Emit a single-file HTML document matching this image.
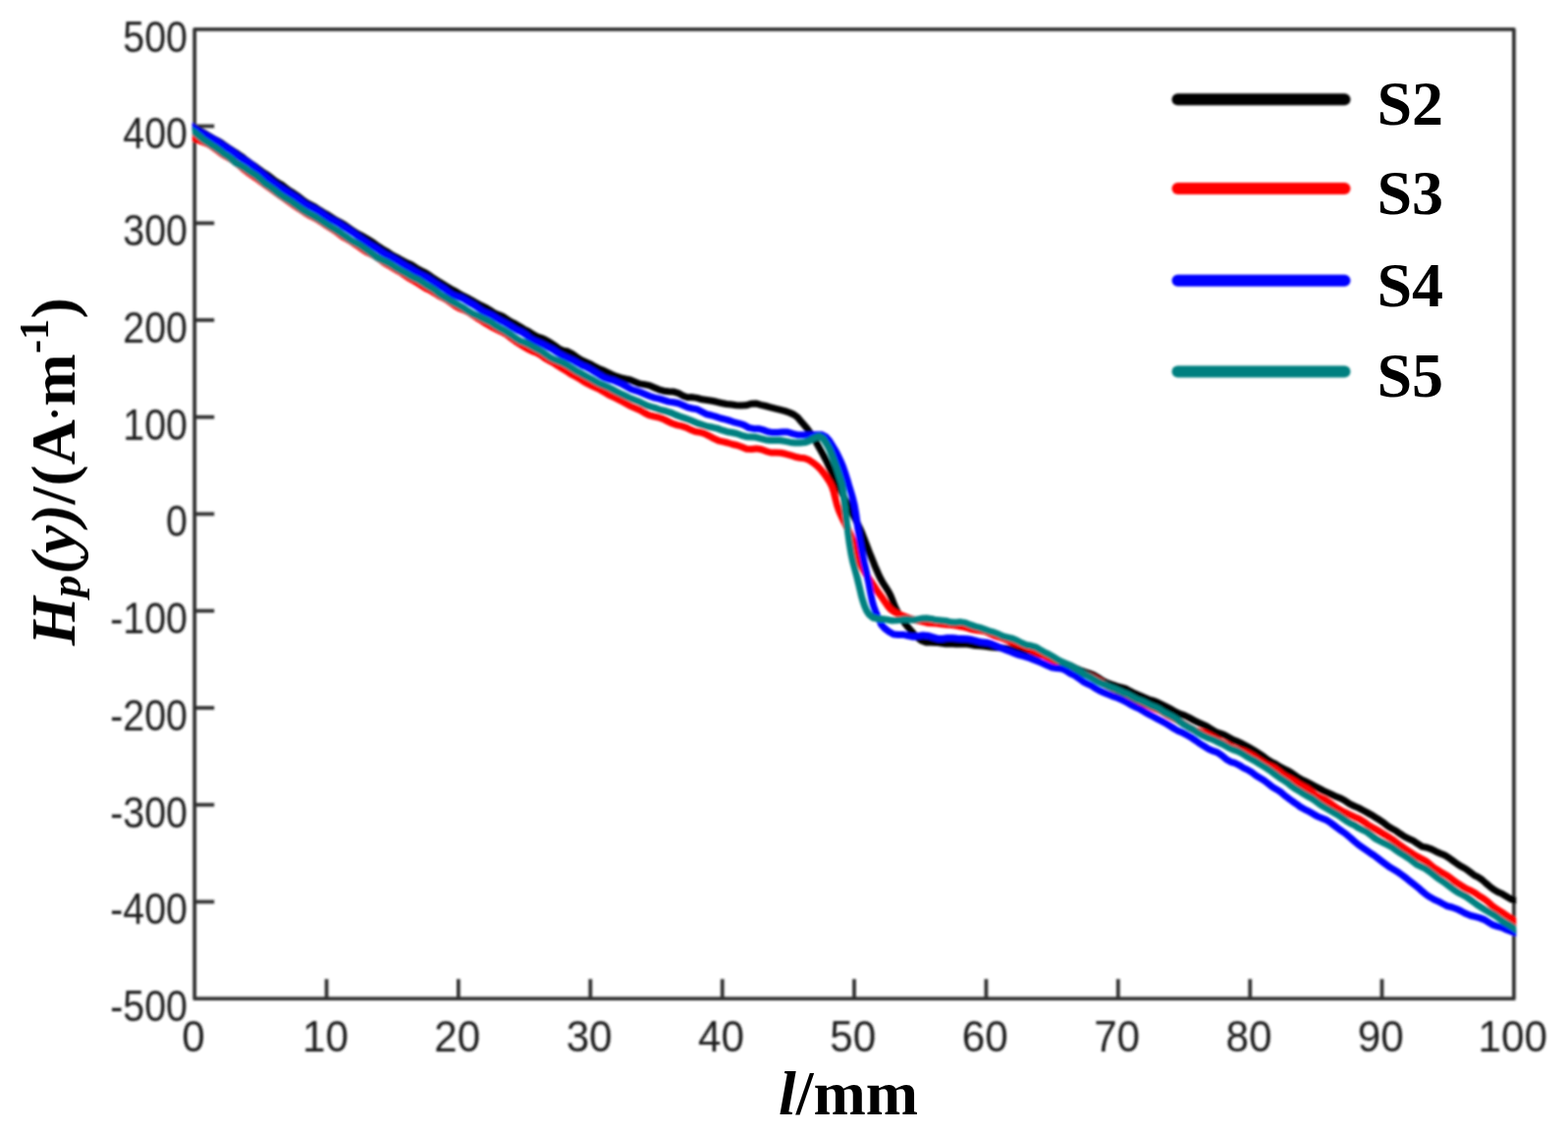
<!DOCTYPE html>
<html lang="en"><head><meta charset="utf-8"><title>Hp(y) vs l</title>
<style>
html,body{margin:0;padding:0;background:#fff;}
body{width:1597px;height:1155px;overflow:hidden;}
svg{display:block;}
.tick{font-family:"Liberation Sans",sans-serif;font-size:43.5px;fill:#1e1e1e;}
.lab{font-family:"Liberation Serif",serif;font-weight:bold;font-size:64px;fill:#000;}
.it{font-style:italic;}
</style></head><body>
<svg width="1597" height="1155" viewBox="0 0 1597 1155">
<rect width="1597" height="1155" fill="#fff"/>

<defs><filter id="soft" filterUnits="userSpaceOnUse" x="0" y="0" width="1597" height="1155"><feGaussianBlur stdDeviation="0.8"/></filter><filter id="soft2" filterUnits="userSpaceOnUse" x="0" y="0" width="1597" height="1155"><feGaussianBlur stdDeviation="0.4"/></filter><clipPath id="c"><rect x="195.8" y="29.8" width="1348.5" height="987.4"/></clipPath></defs>
<g filter="url(#soft)">
<g stroke="#303030" stroke-width="3.8" fill="none">
<rect x="198.2" y="29.8" width="1343.7" height="987.4" stroke-linejoin="round"/>
<line x1="332.6" y1="1017.2" x2="332.6" y2="997.2"/>
<line x1="466.9" y1="1017.2" x2="466.9" y2="997.2"/>
<line x1="601.3" y1="1017.2" x2="601.3" y2="997.2"/>
<line x1="735.7" y1="1017.2" x2="735.7" y2="997.2"/>
<line x1="870.0" y1="1017.2" x2="870.0" y2="997.2"/>
<line x1="1004.4" y1="1017.2" x2="1004.4" y2="997.2"/>
<line x1="1138.8" y1="1017.2" x2="1138.8" y2="997.2"/>
<line x1="1273.2" y1="1017.2" x2="1273.2" y2="997.2"/>
<line x1="1407.5" y1="1017.2" x2="1407.5" y2="997.2"/>
<line x1="198.2" y1="128.5" x2="218.2" y2="128.5"/>
<line x1="198.2" y1="227.3" x2="218.2" y2="227.3"/>
<line x1="198.2" y1="326.0" x2="218.2" y2="326.0"/>
<line x1="198.2" y1="424.8" x2="218.2" y2="424.8"/>
<line x1="198.2" y1="523.5" x2="218.2" y2="523.5"/>
<line x1="198.2" y1="622.2" x2="218.2" y2="622.2"/>
<line x1="198.2" y1="721.0" x2="218.2" y2="721.0"/>
<line x1="198.2" y1="819.7" x2="218.2" y2="819.7"/>
<line x1="198.2" y1="918.5" x2="218.2" y2="918.5"/>
</g>
<g fill="none" stroke-linejoin="round" stroke-linecap="butt" clip-path="url(#c)">
<path d="M185.7 124.4 L190.1 127.3 L194.6 129.5 L199.0 131.1 L203.5 133.1 L208.0 135.5 L212.4 138.2 L216.8 140.8 L221.1 143.0 L225.4 145.5 L229.7 148.7 L233.9 151.6 L238.1 154.2 L242.2 156.8 L246.3 159.6 L250.4 162.9 L254.5 165.9 L258.6 168.6 L262.6 171.5 L266.7 174.6 L270.7 177.1 L274.7 179.9 L278.8 183.3 L282.8 186.0 L287.0 188.4 L291.1 191.5 L295.2 194.5 L299.4 197.1 L303.6 199.9 L307.8 203.3 L312.1 206.4 L316.4 208.6 L320.8 210.9 L325.1 213.8 L329.5 216.5 L333.8 218.8 L338.1 221.7 L342.4 224.4 L346.7 226.6 L350.9 229.0 L355.2 232.1 L359.4 235.1 L363.6 237.7 L367.9 239.8 L372.1 242.2 L376.3 244.8 L380.6 247.5 L384.9 250.7 L389.2 253.5 L393.6 256.0 L398.0 258.9 L402.4 261.5 L406.8 263.7 L411.2 266.1 L415.6 268.3 L420.0 270.3 L424.3 273.2 L428.7 275.6 L433.0 277.6 L437.3 280.5 L441.6 283.5 L445.9 286.3 L450.1 288.8 L454.4 291.4 L458.7 294.0 L463.0 296.3 L467.5 299.0 L471.9 301.5 L476.4 303.7 L480.8 306.0 L485.3 308.7 L489.7 311.0 L494.2 313.1 L498.7 315.7 L503.1 318.6 L507.6 320.6 L511.9 322.3 L516.3 325.1 L520.6 327.9 L524.9 330.0 L529.2 332.5 L533.6 335.3 L538.0 337.5 L542.4 340.3 L546.8 342.8 L551.3 344.3 L555.7 346.3 L560.2 348.8 L564.7 351.9 L569.2 355.1 L573.7 357.1 L578.2 358.0 L582.6 360.3 L587.1 363.6 L591.5 366.5 L595.9 368.4 L600.3 370.4 L604.7 372.9 L609.2 375.2 L613.7 377.0 L618.3 379.1 L623.0 381.4 L627.6 383.4 L632.4 384.9 L637.1 386.0 L642.0 387.0 L646.8 388.9 L651.7 390.9 L656.5 391.6 L661.4 392.6 L666.3 394.8 L671.1 396.8 L676.0 398.2 L680.8 398.7 L685.7 398.9 L690.6 400.3 L695.4 403.1 L700.3 404.8 L705.2 404.6 L710.1 405.4 L715.0 406.8 L719.9 407.5 L724.9 408.3 L729.8 409.3 L734.8 410.5 L739.8 411.5 L744.8 412.1 L749.8 412.7 L754.8 413.1 L759.8 412.8 L764.8 411.3 L769.8 410.9 L774.7 412.4 L779.7 413.5 L784.6 414.8 L789.6 416.2 L794.6 417.4 L799.4 418.6 L804.1 420.2 L808.5 422.2 L812.3 425.0 L815.6 428.9 L818.9 432.7 L822.1 436.5 L825.1 440.7 L828.0 445.0 L830.6 449.3 L833.0 453.6 L835.4 457.9 L837.9 462.4 L840.4 467.0 L842.7 471.5 L844.7 476.0 L846.8 480.5 L848.9 485.1 L851.2 489.8 L853.4 494.4 L855.7 499.0 L858.0 503.4 L860.2 507.6 L862.5 512.1 L864.8 516.6 L867.1 521.1 L869.4 525.6 L871.7 530.0 L873.9 534.4 L876.1 538.9 L878.1 543.5 L880.0 548.2 L881.8 552.9 L883.6 557.7 L885.4 562.4 L887.3 567.1 L889.2 571.8 L891.0 576.4 L893.0 581.0 L895.0 585.6 L897.2 590.1 L899.7 594.4 L902.5 598.7 L905.2 603.0 L907.4 607.4 L909.2 612.1 L911.0 616.8 L913.1 621.3 L915.5 625.7 L918.1 630.0 L921.0 634.1 L924.2 638.0 L927.4 641.9 L930.7 645.6 L934.3 649.2 L938.5 652.5 L943.2 654.2 L948.1 654.2 L953.1 654.4 L958.2 655.1 L963.2 655.8 L968.2 655.6 L973.3 655.9 L978.3 656.1 L983.3 655.7 L988.4 656.5 L993.4 657.5 L998.4 657.8 L1003.4 658.3 L1008.4 659.0 L1013.4 659.4 L1018.4 659.7 L1023.4 660.3 L1028.4 660.8 L1033.3 661.3 L1038.4 662.2 L1043.4 662.5 L1048.4 663.0 L1053.3 664.9 L1058.2 666.8 L1063.0 667.6 L1067.6 668.6 L1072.2 670.6 L1076.8 672.6 L1081.4 674.8 L1086.0 676.7 L1090.6 678.2 L1095.2 680.5 L1099.8 682.5 L1104.5 684.2 L1109.1 685.8 L1113.8 687.6 L1118.4 690.2 L1123.1 693.3 L1127.7 695.6 L1132.4 697.2 L1137.0 698.9 L1141.7 700.1 L1146.3 701.4 L1151.0 704.0 L1155.6 706.3 L1160.2 708.2 L1164.8 710.3 L1169.5 712.3 L1174.1 713.6 L1178.7 715.3 L1183.3 717.7 L1187.9 720.0 L1192.5 722.2 L1197.1 725.0 L1201.7 727.2 L1206.3 728.7 L1210.9 730.9 L1215.4 733.4 L1219.9 735.6 L1224.4 737.7 L1228.9 739.7 L1233.3 742.4 L1237.8 745.2 L1242.3 746.9 L1246.9 748.5 L1251.4 751.0 L1255.9 753.6 L1260.5 755.3 L1265.0 757.5 L1269.4 759.9 L1273.7 762.1 L1278.0 764.8 L1282.2 767.5 L1286.4 770.2 L1290.6 773.5 L1294.8 776.0 L1299.1 778.2 L1303.4 781.0 L1307.8 783.2 L1312.1 785.1 L1316.5 788.0 L1320.9 791.2 L1325.3 793.8 L1329.8 796.0 L1334.2 798.2 L1338.7 800.5 L1343.2 802.8 L1347.8 805.3 L1352.3 807.4 L1356.8 809.5 L1361.3 811.6 L1365.8 813.3 L1370.3 815.8 L1374.8 818.9 L1379.2 821.0 L1383.7 822.9 L1388.1 825.3 L1392.5 827.6 L1396.9 830.1 L1401.1 832.7 L1405.3 835.3 L1409.5 838.2 L1413.6 841.5 L1417.8 844.0 L1422.0 846.3 L1426.2 849.3 L1430.5 852.1 L1435.0 854.3 L1439.5 856.4 L1444.1 859.6 L1448.7 862.4 L1453.3 863.3 L1457.9 864.9 L1462.4 867.2 L1466.9 869.2 L1471.3 871.0 L1475.7 873.7 L1480.0 876.9 L1484.3 880.0 L1488.6 882.7 L1492.9 885.0 L1497.1 888.1 L1501.3 891.3 L1505.4 893.4 L1509.4 896.0 L1513.3 899.5 L1517.3 902.9 L1521.4 906.1 L1525.5 908.5 L1530.0 910.4 L1534.6 913.2 L1539.3 916.1 L1544.0 916.9 L1548.6 917.2 L1553.3 919.5" stroke="#000000" stroke-width="7.0"/>
<path d="M185.8 133.4 L190.2 136.2 L194.6 138.7 L199.0 141.3 L203.4 143.4 L207.8 145.0 L212.2 146.9 L216.5 149.6 L220.7 152.8 L224.9 156.0 L229.1 158.7 L233.2 161.1 L237.4 163.5 L241.5 166.6 L245.6 170.0 L249.6 173.5 L253.7 176.6 L257.7 179.3 L261.7 182.0 L265.8 185.1 L269.7 188.1 L273.7 190.8 L277.7 193.7 L281.7 196.7 L285.8 199.5 L289.9 202.4 L294.0 205.3 L298.1 208.3 L302.3 211.2 L306.5 213.8 L310.7 216.7 L314.9 219.3 L319.2 221.4 L323.6 223.8 L327.9 226.7 L332.2 229.5 L336.5 232.2 L340.7 234.8 L345.0 237.9 L349.2 241.2 L353.3 243.5 L357.5 245.9 L361.7 248.9 L365.9 251.6 L370.1 254.5 L374.3 257.2 L378.5 259.2 L382.8 261.4 L387.0 264.5 L391.3 267.6 L395.7 270.1 L400.0 272.8 L404.4 275.4 L408.7 277.8 L413.0 280.8 L417.4 283.8 L421.7 286.2 L426.0 288.7 L430.3 291.5 L434.5 294.2 L438.8 296.2 L443.0 298.6 L447.1 301.3 L451.3 303.5 L455.5 305.8 L459.8 308.8 L464.1 312.0 L468.5 314.3 L472.9 315.9 L477.3 318.0 L481.7 321.1 L486.0 323.9 L490.4 326.6 L494.8 329.5 L499.2 332.1 L503.5 334.4 L507.9 336.5 L512.2 338.5 L516.4 341.0 L520.7 344.4 L524.9 347.5 L529.1 350.3 L533.4 353.0 L537.7 355.6 L542.0 357.6 L546.4 359.2 L550.8 361.8 L555.1 365.0 L559.5 367.4 L563.8 369.7 L568.1 372.6 L572.4 375.2 L576.6 377.6 L580.9 380.6 L585.2 383.0 L589.6 385.3 L593.9 388.2 L598.2 390.7 L602.5 392.8 L606.9 394.9 L611.3 396.9 L615.7 399.6 L620.2 402.3 L624.7 404.4 L629.3 406.6 L633.8 409.0 L638.3 411.5 L642.8 413.9 L647.3 415.8 L651.9 417.8 L656.5 420.5 L661.1 422.8 L665.8 424.0 L670.5 425.0 L675.2 426.6 L680.0 429.0 L684.7 431.3 L689.4 432.9 L694.1 433.9 L698.8 435.3 L703.5 437.7 L708.2 439.5 L712.9 440.2 L717.6 441.7 L722.3 444.0 L727.0 446.6 L731.8 448.8 L736.5 449.9 L741.2 451.0 L746.0 452.5 L750.7 453.5 L755.6 455.3 L760.4 457.3 L765.4 457.4 L770.4 456.9 L775.4 457.7 L780.3 459.6 L785.2 461.0 L790.2 461.1 L795.2 461.3 L800.1 462.3 L804.9 463.7 L809.7 465.2 L814.5 466.2 L819.4 466.8 L824.1 468.6 L828.6 471.6 L832.5 474.8 L836.0 478.4 L839.3 482.5 L842.3 486.8 L845.0 490.9 L847.3 495.3 L848.9 500.0 L850.1 504.8 L851.3 509.7 L852.6 514.6 L854.2 519.3 L856.1 523.9 L858.2 528.5 L860.4 532.9 L862.7 537.3 L865.0 541.8 L867.2 546.5 L869.1 551.2 L870.6 555.9 L871.6 560.8 L872.9 565.6 L874.6 570.4 L876.6 575.2 L878.8 579.7 L881.4 584.0 L884.3 588.2 L887.1 592.2 L889.8 596.2 L892.5 600.4 L895.3 604.4 L898.1 608.3 L901.0 612.6 L904.1 617.1 L907.4 620.9 L911.0 623.4 L915.4 625.6 L920.5 627.5 L925.1 629.2 L929.7 631.0 L934.5 632.0 L939.5 633.1 L944.5 634.4 L949.5 634.8 L954.5 635.0 L959.5 635.8 L964.5 636.3 L969.4 636.5 L974.3 637.3 L979.3 638.2 L984.2 639.3 L989.0 640.9 L993.9 641.8 L998.7 642.3 L1003.5 643.1 L1008.3 645.3 L1013.1 647.7 L1017.9 649.0 L1022.6 650.6 L1027.3 652.5 L1032.0 654.6 L1036.7 656.3 L1041.3 657.7 L1045.9 659.7 L1050.5 662.0 L1055.0 664.2 L1059.6 666.2 L1064.1 668.4 L1068.7 670.9 L1073.4 673.2 L1078.1 674.5 L1082.7 675.8 L1087.4 677.9 L1091.9 680.1 L1096.5 682.6 L1101.0 685.1 L1105.5 686.8 L1109.9 688.5 L1114.4 690.6 L1118.8 693.0 L1123.3 695.8 L1127.7 698.7 L1132.1 700.8 L1136.5 703.1 L1140.9 705.7 L1145.4 707.7 L1149.8 710.2 L1154.3 712.9 L1158.9 714.7 L1163.4 716.3 L1168.0 718.2 L1172.6 720.4 L1177.1 722.3 L1181.6 723.9 L1186.0 726.5 L1190.5 729.4 L1194.8 731.4 L1199.2 733.5 L1203.7 736.1 L1208.1 738.9 L1212.6 741.7 L1217.2 744.1 L1221.8 745.2 L1226.4 746.3 L1231.1 748.4 L1235.7 750.8 L1240.3 753.6 L1244.9 756.2 L1249.4 758.2 L1254.0 760.7 L1258.6 762.7 L1263.1 764.0 L1267.6 765.6 L1272.1 767.7 L1276.5 770.1 L1280.9 773.1 L1285.3 775.9 L1289.6 778.6 L1293.9 780.5 L1298.2 782.5 L1302.4 785.8 L1306.7 789.3 L1310.9 791.8 L1315.0 793.7 L1319.2 796.2 L1323.5 799.1 L1327.7 801.4 L1332.0 803.7 L1336.3 807.1 L1340.6 810.6 L1344.9 812.6 L1349.2 814.5 L1353.5 817.2 L1357.8 820.3 L1362.2 823.4 L1366.5 825.9 L1371.0 828.0 L1375.4 830.1 L1379.8 832.2 L1384.2 834.0 L1388.6 836.7 L1393.0 839.9 L1397.3 842.5 L1401.5 844.9 L1405.8 847.4 L1410.0 850.0 L1414.2 852.5 L1418.3 855.1 L1422.5 858.2 L1426.7 861.5 L1430.9 864.4 L1435.1 867.2 L1439.3 870.0 L1443.5 872.5 L1447.7 874.6 L1451.9 876.8 L1456.1 880.1 L1460.3 883.6 L1464.5 886.3 L1468.7 888.9 L1472.9 891.2 L1477.2 894.1 L1481.4 897.5 L1485.6 900.3 L1489.8 902.9 L1494.0 905.4 L1498.2 907.2 L1502.4 909.5 L1506.5 912.5 L1510.7 915.0 L1514.8 918.0 L1519.0 921.9 L1523.1 925.1 L1527.3 927.7 L1531.4 930.3 L1535.5 933.1 L1539.7 936.0 L1543.8 938.8 L1548.0 941.7 L1552.1 944.6" stroke="#ff0000" stroke-width="7.0"/>
<path d="M185.9 123.6 L190.2 125.3 L194.6 128.2 L199.0 131.4 L203.4 134.0 L207.8 136.6 L212.2 139.1 L216.5 141.2 L220.7 143.5 L224.9 146.5 L229.1 149.4 L233.2 151.9 L237.4 154.8 L241.5 158.1 L245.6 161.0 L249.6 163.5 L253.7 166.0 L257.8 169.1 L261.8 172.8 L265.8 176.0 L269.8 179.1 L273.8 182.4 L277.9 185.7 L281.9 188.6 L286.0 191.3 L290.1 193.9 L294.2 196.5 L298.4 199.2 L302.5 201.8 L306.7 204.9 L311.0 208.0 L315.3 210.4 L319.6 212.4 L323.9 214.8 L328.3 217.7 L332.6 220.9 L336.9 223.5 L341.1 225.5 L345.4 227.9 L349.6 230.8 L353.8 233.3 L358.0 235.9 L362.3 239.0 L366.5 242.2 L370.7 245.1 L374.9 247.9 L379.1 250.4 L383.3 252.9 L387.6 256.0 L392.0 258.8 L396.4 261.0 L400.8 263.3 L405.1 265.8 L409.5 268.6 L413.9 271.2 L418.2 273.6 L422.5 276.3 L426.9 278.8 L431.2 280.9 L435.5 283.1 L439.7 285.9 L443.9 288.8 L448.1 291.4 L452.4 294.1 L456.6 297.4 L460.9 300.4 L465.3 302.0 L469.7 303.3 L474.1 305.7 L478.5 308.4 L483.0 310.9 L487.4 314.0 L491.8 317.1 L496.2 319.0 L500.7 321.0 L505.1 323.8 L509.5 326.3 L513.8 328.5 L518.1 331.0 L522.4 333.8 L526.7 336.3 L531.0 338.1 L535.4 340.8 L539.7 344.4 L544.1 347.0 L548.5 348.7 L553.0 350.7 L557.4 353.1 L561.9 355.3 L566.4 358.2 L570.9 361.1 L575.4 363.4 L579.9 365.4 L584.4 367.4 L588.8 370.0 L593.2 372.4 L597.6 374.1 L602.0 376.5 L606.4 379.3 L610.9 382.1 L615.4 384.7 L620.0 386.3 L624.5 387.4 L629.1 389.4 L633.8 391.4 L638.4 393.9 L643.0 396.5 L647.7 398.0 L652.3 399.5 L657.0 401.5 L661.8 403.5 L666.6 405.1 L671.5 406.1 L676.3 407.6 L681.1 409.1 L686.0 409.8 L690.8 410.8 L695.6 412.7 L700.4 414.9 L705.2 416.0 L710.0 416.9 L714.8 419.3 L719.6 421.8 L724.4 423.0 L729.1 424.4 L733.9 426.0 L738.6 427.2 L743.4 428.5 L748.1 430.2 L752.9 431.3 L757.7 432.9 L762.6 435.6 L767.6 436.7 L772.5 436.7 L777.3 437.9 L782.1 439.7 L787.0 440.6 L792.0 440.6 L797.1 440.1 L802.1 440.0 L807.1 441.6 L812.1 442.9 L817.1 443.0 L822.1 443.2 L827.2 443.0 L832.2 442.7 L837.0 442.8 L841.3 445.1 L844.5 448.6 L847.3 453.1 L849.9 457.3 L852.4 461.7 L854.6 466.3 L856.7 470.8 L858.6 475.4 L860.3 480.3 L861.8 485.1 L863.3 489.9 L864.7 494.7 L866.2 499.5 L867.6 504.2 L868.9 509.0 L870.1 513.9 L871.0 518.9 L871.8 523.9 L872.5 528.9 L873.2 533.9 L873.9 538.9 L874.7 543.8 L875.5 548.8 L876.4 553.8 L877.3 558.7 L878.2 563.6 L879.2 568.6 L880.2 573.5 L881.4 578.4 L882.5 583.3 L883.6 588.3 L884.7 593.2 L885.6 598.1 L886.5 603.1 L887.5 608.0 L888.5 612.9 L889.9 617.6 L891.6 622.2 L893.6 627.1 L895.7 631.8 L897.8 636.5 L900.9 639.9 L905.2 643.2 L910.0 646.0 L914.8 646.5 L919.7 646.4 L924.8 647.6 L929.8 648.7 L934.8 647.9 L939.8 647.0 L944.8 647.4 L949.8 648.9 L954.9 650.4 L959.9 650.5 L964.9 649.8 L970.0 649.7 L975.0 650.3 L980.0 650.6 L985.0 650.8 L990.0 651.5 L995.0 652.9 L999.9 654.1 L1004.8 654.4 L1009.6 655.6 L1014.4 657.7 L1019.1 659.8 L1023.8 661.7 L1028.6 663.6 L1033.3 665.4 L1038.0 667.1 L1042.8 668.5 L1047.5 669.8 L1052.3 671.7 L1057.0 673.6 L1061.8 675.5 L1066.6 677.7 L1071.3 679.7 L1076.1 680.6 L1080.8 680.9 L1085.4 682.9 L1089.9 685.8 L1094.3 687.9 L1098.6 690.7 L1103.0 694.1 L1107.3 696.4 L1111.6 698.4 L1116.0 701.2 L1120.4 703.8 L1125.0 705.7 L1129.5 707.6 L1134.1 709.4 L1138.8 711.0 L1143.4 713.2 L1147.9 715.5 L1152.5 718.1 L1156.9 720.4 L1161.4 722.4 L1165.8 725.1 L1170.3 727.6 L1174.7 730.0 L1179.1 732.4 L1183.5 734.6 L1187.8 737.0 L1192.2 739.7 L1196.5 742.5 L1200.8 744.8 L1205.1 746.6 L1209.5 749.0 L1213.8 751.5 L1218.2 754.5 L1222.5 757.6 L1226.8 760.3 L1231.2 763.1 L1235.6 764.9 L1239.9 766.3 L1244.3 769.3 L1248.8 773.2 L1253.2 775.8 L1257.7 777.2 L1262.1 779.3 L1266.5 782.1 L1270.8 784.1 L1275.1 786.8 L1279.3 790.0 L1283.5 792.5 L1287.6 795.0 L1291.8 798.2 L1295.9 801.5 L1300.0 803.9 L1304.1 806.5 L1308.1 809.9 L1312.2 813.1 L1316.2 816.0 L1320.3 818.8 L1324.4 821.9 L1328.7 824.3 L1333.1 826.4 L1337.6 829.1 L1342.1 831.6 L1346.6 833.5 L1351.0 835.3 L1355.4 838.1 L1359.7 841.4 L1363.8 844.5 L1367.9 847.3 L1371.9 850.3 L1375.8 853.6 L1379.7 857.1 L1383.6 860.4 L1387.5 863.1 L1391.5 865.9 L1395.5 868.7 L1399.5 871.3 L1403.6 874.4 L1407.8 877.6 L1411.9 880.6 L1416.0 883.6 L1420.2 886.1 L1424.3 888.6 L1428.4 891.5 L1432.5 894.6 L1436.6 898.0 L1440.5 901.1 L1444.5 904.2 L1448.5 907.8 L1452.5 911.1 L1456.6 913.8 L1460.8 916.2 L1465.1 918.1 L1469.5 920.5 L1474.0 922.8 L1478.7 924.0 L1483.4 925.7 L1488.2 928.0 L1493.0 930.6 L1497.7 932.5 L1502.4 933.7 L1507.0 934.9 L1511.6 936.6 L1516.3 939.4 L1520.9 942.2 L1525.5 943.7 L1530.1 944.8 L1534.7 947.0 L1539.4 948.8 L1544.0 950.0 L1548.6 952.5 L1553.2 955.2" stroke="#0000ff" stroke-width="7.0"/>
<path d="M186.2 128.8 L190.4 130.9 L194.7 132.8 L198.9 135.3 L203.2 139.0 L207.4 142.6 L211.6 145.2 L215.8 148.1 L220.0 150.8 L224.1 153.7 L228.2 157.0 L232.3 159.5 L236.4 162.6 L240.4 166.1 L244.5 168.5 L248.6 170.9 L252.7 173.8 L256.8 176.5 L260.8 179.0 L264.8 182.5 L268.8 186.3 L272.8 189.2 L276.9 191.9 L280.9 195.1 L284.9 198.1 L289.0 201.0 L293.2 203.6 L297.3 206.1 L301.5 209.1 L305.7 212.1 L309.9 215.0 L314.1 217.4 L318.5 219.6 L322.8 222.1 L327.1 224.9 L331.5 227.9 L335.8 230.6 L340.0 233.0 L344.3 235.7 L348.5 238.7 L352.7 241.5 L356.9 244.4 L361.1 246.9 L365.4 249.1 L369.5 251.9 L373.7 254.8 L378.0 257.9 L382.2 261.0 L386.5 263.7 L390.8 265.8 L395.1 267.7 L399.5 270.3 L403.9 273.3 L408.3 275.8 L412.6 278.0 L416.9 280.6 L421.3 283.0 L425.6 284.8 L429.9 287.5 L434.2 290.5 L438.5 292.8 L442.7 295.6 L446.9 299.0 L451.1 301.9 L455.3 304.3 L459.6 306.9 L464.0 309.2 L468.3 311.5 L472.7 314.1 L477.2 317.1 L481.6 319.7 L486.0 321.6 L490.4 323.8 L494.8 326.0 L499.3 328.2 L503.7 331.2 L508.1 333.8 L512.4 336.1 L516.7 338.7 L521.0 341.5 L525.3 344.6 L529.6 347.2 L533.9 348.8 L538.2 350.7 L542.6 353.2 L547.0 355.6 L551.5 358.0 L555.9 361.2 L560.3 364.2 L564.7 366.3 L569.1 368.0 L573.6 369.9 L578.0 372.3 L582.4 375.0 L586.8 377.8 L591.3 380.2 L595.7 382.6 L600.2 385.0 L604.6 387.4 L609.1 390.1 L613.7 392.1 L618.2 393.9 L622.8 396.1 L627.4 398.6 L631.9 400.9 L636.5 403.0 L640.9 405.1 L645.4 407.0 L649.9 408.7 L654.4 410.9 L659.0 413.2 L663.7 414.5 L668.5 415.9 L673.4 417.8 L678.3 418.8 L683.1 420.3 L687.8 422.4 L692.6 424.2 L697.3 425.9 L702.0 427.5 L706.8 429.5 L711.5 431.4 L716.3 433.0 L721.1 434.5 L725.9 435.3 L730.7 436.4 L735.5 438.2 L740.4 439.7 L745.3 440.5 L750.1 441.5 L755.0 443.3 L759.9 444.7 L764.8 444.9 L769.8 445.3 L774.7 446.7 L779.7 447.9 L784.6 448.4 L789.6 448.4 L794.6 448.5 L799.6 449.4 L804.7 450.4 L809.7 450.9 L814.8 451.0 L819.8 450.6 L824.4 448.9 L829.0 446.3 L834.0 444.5 L838.2 446.6 L841.5 451.6 L843.9 455.7 L845.9 460.2 L847.8 465.0 L849.6 469.7 L851.3 474.4 L853.0 479.2 L854.5 484.0 L856.1 488.8 L857.5 493.6 L858.4 498.5 L859.0 503.5 L859.6 508.5 L860.1 513.5 L860.7 518.5 L861.3 523.5 L861.9 528.5 L862.5 533.5 L863.2 538.4 L863.8 543.4 L864.5 548.4 L865.2 553.4 L866.0 558.4 L866.8 563.4 L867.8 568.3 L868.9 573.1 L870.2 577.9 L871.5 582.8 L872.8 587.7 L874.0 592.6 L875.2 597.5 L876.3 602.3 L877.5 607.2 L878.9 612.1 L880.5 617.0 L882.5 621.7 L885.2 625.8 L888.8 629.0 L893.4 630.2 L898.4 630.4 L903.5 631.1 L908.5 632.1 L913.5 631.8 L918.5 631.1 L923.5 630.8 L928.5 631.3 L933.5 631.2 L938.6 630.1 L943.6 629.8 L948.6 630.4 L953.6 631.6 L958.6 632.0 L963.6 632.5 L968.6 633.8 L973.5 634.0 L978.4 633.6 L983.3 634.4 L988.2 636.4 L993.1 638.1 L998.0 639.3 L1002.8 641.1 L1007.6 642.8 L1012.4 644.2 L1017.2 646.1 L1021.9 648.2 L1026.6 649.3 L1031.3 650.5 L1036.0 652.5 L1040.7 655.0 L1045.4 657.0 L1050.1 657.8 L1054.7 659.1 L1059.2 661.8 L1063.7 664.3 L1068.2 666.5 L1072.6 669.1 L1077.0 671.8 L1081.4 674.1 L1085.8 675.9 L1090.3 678.0 L1094.7 680.6 L1099.2 683.2 L1103.6 686.1 L1108.1 688.4 L1112.5 690.7 L1117.0 693.3 L1121.5 695.6 L1126.0 697.7 L1130.5 699.8 L1135.0 701.5 L1139.6 703.4 L1144.1 705.4 L1148.7 707.2 L1153.2 709.7 L1157.8 712.3 L1162.5 714.0 L1167.1 716.1 L1171.7 718.5 L1176.2 720.2 L1180.7 722.4 L1185.1 725.3 L1189.5 727.6 L1193.7 729.7 L1198.0 732.3 L1202.3 735.3 L1206.6 738.3 L1210.9 740.8 L1215.3 743.1 L1219.7 745.9 L1224.2 748.6 L1228.6 750.7 L1233.1 752.4 L1237.6 754.3 L1242.1 756.5 L1246.6 758.7 L1251.1 761.3 L1255.6 763.4 L1260.1 764.9 L1264.6 767.1 L1269.0 769.9 L1273.4 772.5 L1277.8 774.8 L1282.0 777.4 L1286.3 780.1 L1290.6 782.8 L1294.8 785.7 L1299.0 788.9 L1303.2 792.0 L1307.3 794.6 L1311.4 797.3 L1315.5 800.7 L1319.6 803.6 L1323.8 806.1 L1328.0 808.7 L1332.2 811.1 L1336.4 813.4 L1340.7 816.5 L1345.0 819.8 L1349.2 822.3 L1353.5 824.7 L1357.8 827.2 L1362.1 829.7 L1366.4 832.6 L1370.7 835.7 L1375.0 838.3 L1379.4 840.4 L1383.7 843.2 L1388.0 845.4 L1392.3 847.4 L1396.6 850.8 L1400.9 854.1 L1405.2 856.5 L1409.5 858.7 L1413.7 860.7 L1418.0 863.0 L1422.2 866.1 L1426.5 869.0 L1430.7 871.5 L1434.9 874.3 L1439.1 877.5 L1443.2 880.6 L1447.4 882.7 L1451.6 884.7 L1455.7 887.5 L1459.9 890.8 L1464.0 894.1 L1468.2 896.9 L1472.3 899.7 L1476.5 902.9 L1480.6 906.0 L1484.8 908.8 L1488.9 911.0 L1493.1 913.2 L1497.3 916.2 L1501.5 919.3 L1505.7 922.3 L1509.9 924.9 L1514.1 927.5 L1518.4 930.0 L1522.6 932.4 L1526.9 935.5 L1531.1 938.6 L1535.4 941.0 L1539.6 943.6 L1543.8 946.4 L1548.1 948.9 L1552.3 951.6" stroke="#008080" stroke-width="7.0"/>
</g>
<g class="tick" text-anchor="end">
<text transform="translate(191,52.6) scale(0.905,1)">500</text>
<text transform="translate(191,151.3) scale(0.905,1)">400</text>
<text transform="translate(191,250.1) scale(0.905,1)">300</text>
<text transform="translate(191,348.8) scale(0.905,1)">200</text>
<text transform="translate(191,447.6) scale(0.905,1)">100</text>
<text transform="translate(191,546.3) scale(0.905,1)">0</text>
<text transform="translate(191,645.0) scale(0.905,1)">-100</text>
<text transform="translate(191,743.8) scale(0.905,1)">-200</text>
<text transform="translate(191,842.5) scale(0.905,1)">-300</text>
<text transform="translate(191,941.3) scale(0.905,1)">-400</text>
<text transform="translate(191,1040.0) scale(0.905,1)">-500</text>
</g>
<g class="tick" text-anchor="middle">
<text transform="translate(197.0,1070.6) scale(0.97,1)">0</text>
<text transform="translate(331.4,1070.6) scale(0.97,1)">10</text>
<text transform="translate(465.7,1070.6) scale(0.97,1)">20</text>
<text transform="translate(600.1,1070.6) scale(0.97,1)">30</text>
<text transform="translate(734.5,1070.6) scale(0.97,1)">40</text>
<text transform="translate(868.8,1070.6) scale(0.97,1)">50</text>
<text transform="translate(1003.2,1070.6) scale(0.97,1)">60</text>
<text transform="translate(1137.6,1070.6) scale(0.97,1)">70</text>
<text transform="translate(1272.0,1070.6) scale(0.97,1)">80</text>
<text transform="translate(1406.3,1070.6) scale(0.97,1)">90</text>
<text transform="translate(1540.7,1070.6) scale(0.97,1)">100</text>
</g>
<line x1="1199.5" y1="101.2" x2="1369.5" y2="101.2" stroke="#000000" stroke-width="12" stroke-linecap="round"/>
<line x1="1199.5" y1="192.1" x2="1369.5" y2="192.1" stroke="#ff0000" stroke-width="12" stroke-linecap="round"/>
<line x1="1199.5" y1="285.7" x2="1369.5" y2="285.7" stroke="#0000ff" stroke-width="12" stroke-linecap="round"/>
<line x1="1199.5" y1="378.6" x2="1369.5" y2="378.6" stroke="#008080" stroke-width="12" stroke-linecap="round"/>
</g>
<g filter="url(#soft2)">
<text class="lab" x="1402.5" y="126.5">S2</text>
<text class="lab" x="1402.5" y="217.9">S3</text>
<text class="lab" x="1402.5" y="311.5">S4</text>
<text class="lab" x="1402.5" y="403.9">S5</text>
<text class="lab" x="864" y="1135" text-anchor="middle"><tspan class="it">l</tspan>/mm</text>
<text class="lab" transform="translate(76,657.5) rotate(-90)"><tspan class="it">H</tspan><tspan class="it" font-size="45" dy="6" dx="-0.5">p</tspan><tspan class="it" dy="-6" dx="1">(y)</tspan>/<tspan dx="1">(A</tspan><tspan dx="-1.25" dy="-6.5" font-size="42">·</tspan><tspan dx="0.75" dy="6.5">m</tspan><tspan font-size="42" dy="-27" dx="0.5">-1</tspan><tspan dy="27" dx="0.5">)</tspan></text>
</g>
</svg></body></html>
